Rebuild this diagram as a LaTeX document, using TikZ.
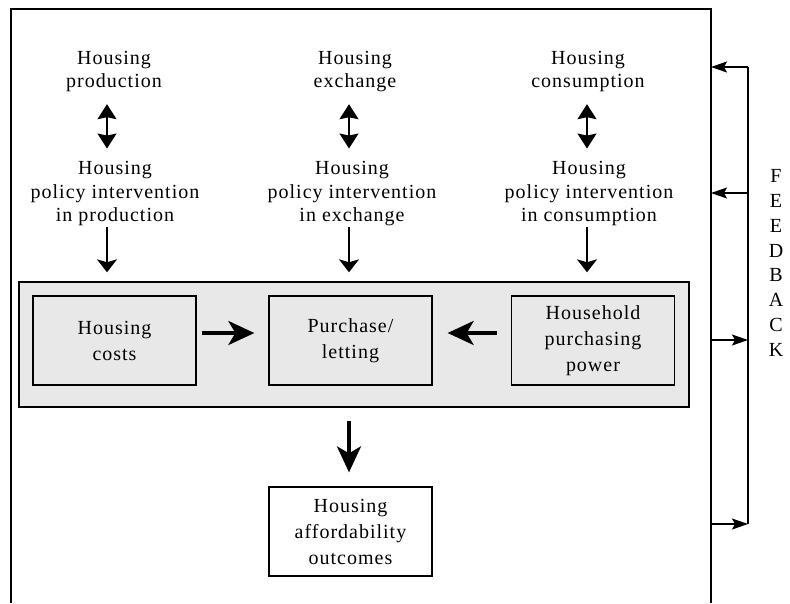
\documentclass[tikz,border=0pt]{standalone}
\usepackage{fontspec}
\setmainfont{Liberation Serif}[LetterSpace=5]
\usetikzlibrary{arrows.meta,positioning,calc}
\definecolor{panelgray}{HTML}{E8E8E8}
\tikzset{
  stagetext/.style={align=center, inner sep=0pt,
    font=\fontsize{20}{23.5}\selectfont},
  stagebox/.style={rectangle, draw=black, line width=1.3pt, fill=#1,
    minimum width=163, minimum height=89, align=center, inner sep=2pt,
    font=\fontsize{20}{26}\selectfont},
  stagebox/.default=panelgray,
  corebox/.style={rectangle, draw=black, line width=1.4pt, fill=panelgray,
    minimum width=670, minimum height=125},
  twoway/.style={{Stealth[length=15pt,width=19pt,inset=2pt]}-{Stealth[length=15pt,width=19pt,inset=2pt]},
    line width=1.3pt},
  linkarrow/.style={-{Stealth[length=13pt,width=20pt,inset=3pt]}, line width=1.3pt},
  flowarrow/.style={-{Stealth[length=26pt,width=24pt,inset=7pt]}, line width=3.5pt},
  fbarrow/.style={-{Stealth[length=16pt,width=11pt,inset=3pt]}, line width=1.3pt},
}

\begin{document}
\begin{tikzpicture}[x=1pt,y=-1pt]
\useasboundingbox (0,0) rectangle (790,603);
% open frame round the system
\draw[line width=1.6pt] (11,603) -- (11,9) -- (711,9) -- (711,603);
\coordinate (rim) at (711,0);

% arrow columns
\coordinate (colA) at (107,0);
\coordinate (colB) at (349,0);
\coordinate (colC) at (587,0);

% housing activities and the policy acting on each
\node[stagetext] (prod) at (114,71.5) {Housing\\production};
\node[stagetext] (exch) at (355,71.5) {Housing\\exchange};
\node[stagetext] (cons) at (588,71.5) {Housing\\consumption};
\node[stagetext] (prodpol) at (115,194) {Housing\\policy intervention\\in production};
\node[stagetext] (exchpol) at (352,194) {Housing\\policy intervention\\in exchange};
\node[stagetext] (conspol) at (589,194) {Housing\\policy intervention\\in consumption};

\draw[twoway, shorten <=12pt, shorten >=13pt] (prod.south -| colA) -- (prodpol.north -| colA);
\draw[twoway, shorten <=12pt, shorten >=13pt] (exch.south -| colB) -- (exchpol.north -| colB);
\draw[twoway, shorten <=12pt, shorten >=13pt] (cons.south -| colC) -- (conspol.north -| colC);

% market core
\node[corebox] (core) at (354,344.5) {};
\node[stagebox] (costs) at (114.5,340.5) {Housing\\costs};
\node[stagebox] (buy) at (350.5,340.5) {Purchase/\\letting};
\node[stagebox] (power) at (593,340.5) {Household\\purchasing\\power};

\draw[linkarrow, shorten <=1pt, shorten >=9pt] (prodpol.south -| colA) -- (core.north -| colA);
\draw[linkarrow, shorten <=1pt, shorten >=9pt] (exchpol.south -| colB) -- (core.north -| colB);
\draw[linkarrow, shorten <=1pt, shorten >=9pt] (conspol.south -| colC) -- (core.north -| colC);

\draw[flowarrow, shorten <=5pt, shorten >=14pt] ([yshift=7.5pt]costs.east) -- ([yshift=7.5pt]buy.west);
\draw[flowarrow, shorten <=14pt, shorten >=15pt] ([yshift=7.5pt]power.west) -- ([yshift=7.5pt]buy.east);

% outcome
\node[stagebox=white] (outcome) at (350.5,531.5) {Housing\\affordability\\outcomes};
\draw[flowarrow, shorten <=13pt, shorten >=14pt] (core.south -| colB) -- (outcome.north -| colB);

% feedback loop
\coordinate (fb1) at (748,67);
\coordinate (fb2) at (748,193);
\coordinate (fb3) at (748,340);
\coordinate (fb4) at (748,524);
\draw[line width=1.3pt] (fb1) -- (fb4);
\draw[fbarrow] (fb1) -- (fb1 -| rim);
\draw[fbarrow] (fb2) -- (fb2 -| rim);
\draw[fbarrow] (fb3 -| rim) -- (fb3);
\draw[fbarrow] (fb4 -| rim) -- (fb4);
\node[stagetext, font=\fontsize{20}{24.8}\selectfont] (fbword) at (776,263) {F\\E\\E\\D\\B\\A\\C\\K};
\end{tikzpicture}
\end{document}
